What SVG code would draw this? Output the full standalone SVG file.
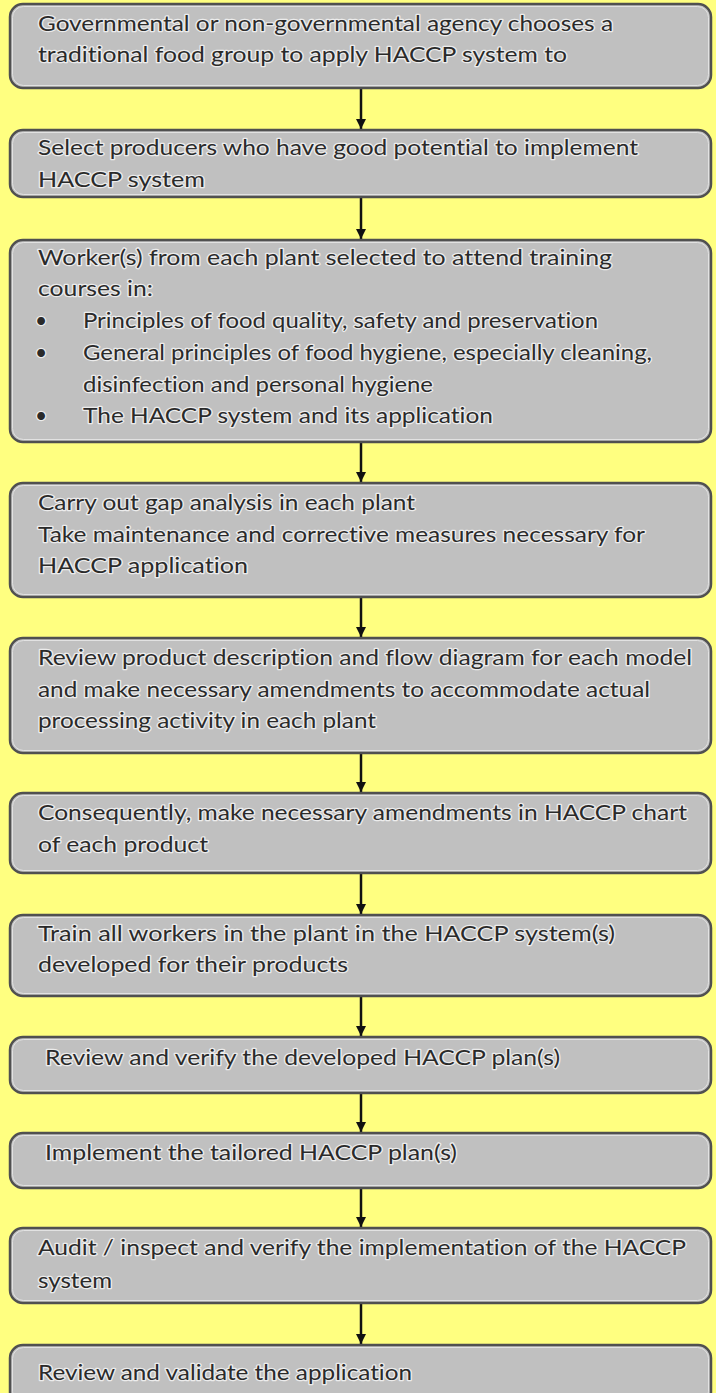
<svg xmlns="http://www.w3.org/2000/svg" width="716" height="1393" viewBox="0 0 716 1393">
<style>
.box{fill:#c0c0c0;stroke:#505050;stroke-width:2.5}
.inner{fill:none;stroke:#e2e2e2;stroke-width:1}
.t{font-family:Lato,"Open Sans","Liberation Sans",sans-serif;font-size:21px;fill:#2a2a2a;stroke:#ececec;stroke-width:2.5;stroke-linejoin:round;paint-order:stroke;font-variant-ligatures:none}
.c{stroke:#111;stroke-width:2.5;fill:none}
</style>
<defs>
<marker id="ah" viewBox="0 0 10 14" refX="10" refY="5" markerWidth="10" markerHeight="14" markerUnits="userSpaceOnUse" orient="auto">
<path d="M0,0 L10,5 L0,10 Z" fill="#111"/>
</marker>
</defs>
<rect width="716" height="1393" fill="#ffff80"/>
<g id="connectors">
<line class="c" x1="361" y1="88" x2="361" y2="129" marker-end="url(#ah)"/>
<line class="c" x1="361" y1="197" x2="361" y2="239" marker-end="url(#ah)"/>
<line class="c" x1="361" y1="442" x2="361" y2="482" marker-end="url(#ah)"/>
<line class="c" x1="361" y1="597" x2="361" y2="637" marker-end="url(#ah)"/>
<line class="c" x1="361" y1="753" x2="361" y2="792" marker-end="url(#ah)"/>
<line class="c" x1="361" y1="873" x2="361" y2="914" marker-end="url(#ah)"/>
<line class="c" x1="361" y1="996" x2="361" y2="1036" marker-end="url(#ah)"/>
<line class="c" x1="361" y1="1093" x2="361" y2="1132" marker-end="url(#ah)"/>
<line class="c" x1="361" y1="1188" x2="361" y2="1227" marker-end="url(#ah)"/>
<line class="c" x1="361" y1="1303" x2="361" y2="1344" marker-end="url(#ah)"/>
</g>
<g id="n1">
<rect class="box" x="10" y="4" width="701" height="84" rx="13"/>
<rect class="inner" x="12.5" y="6.5" width="696" height="79" rx="11"/>
<text class="t" x="38" y="31" textLength="575" lengthAdjust="spacingAndGlyphs">Governmental or non-governmental agency chooses a</text>
<text class="t" x="38" y="62" textLength="529" lengthAdjust="spacingAndGlyphs">traditional food group to apply HACCP system to</text>
</g>
<g id="n2">
<rect class="box" x="10" y="130" width="701" height="67" rx="13"/>
<rect class="inner" x="12.5" y="132.5" width="696" height="62" rx="11"/>
<text class="t" x="38" y="155" textLength="600" lengthAdjust="spacingAndGlyphs">Select producers who have good potential to implement</text>
<text class="t" x="38" y="187" textLength="167" lengthAdjust="spacingAndGlyphs">HACCP system</text>
</g>
<g id="n3">
<rect class="box" x="10" y="240" width="701" height="202" rx="13"/>
<rect class="inner" x="12.5" y="242.5" width="696" height="197" rx="11"/>
<text class="t" x="38" y="265" textLength="574" lengthAdjust="spacingAndGlyphs">Worker(s) from each plant selected to attend training</text>
<text class="t" x="38" y="296" textLength="115" lengthAdjust="spacingAndGlyphs">courses in:</text>
<text class="t" x="35" y="328">•</text>
<text class="t" x="83" y="328" textLength="515" lengthAdjust="spacingAndGlyphs">Principles of food quality, safety and preservation</text>
<text class="t" x="35" y="360">•</text>
<text class="t" x="83" y="360" textLength="569" lengthAdjust="spacingAndGlyphs">General principles of food hygiene, especially cleaning,</text>
<text class="t" x="83" y="392" textLength="350" lengthAdjust="spacingAndGlyphs">disinfection and personal hygiene</text>
<text class="t" x="35" y="423">•</text>
<text class="t" x="83" y="423" textLength="410" lengthAdjust="spacingAndGlyphs">The HACCP system and its application</text>
</g>
<g id="n4">
<rect class="box" x="10" y="483" width="701" height="114" rx="13"/>
<rect class="inner" x="12.5" y="485.5" width="696" height="109" rx="11"/>
<text class="t" x="38" y="510" textLength="377" lengthAdjust="spacingAndGlyphs">Carry out gap analysis in each plant</text>
<text class="t" x="38" y="542" textLength="607" lengthAdjust="spacingAndGlyphs">Take maintenance and corrective measures necessary for</text>
<text class="t" x="38" y="573" textLength="210" lengthAdjust="spacingAndGlyphs">HACCP application</text>
</g>
<g id="n5">
<rect class="box" x="10" y="638" width="701" height="115" rx="13"/>
<rect class="inner" x="12.5" y="640.5" width="696" height="110" rx="11"/>
<text class="t" x="38" y="665" textLength="654" lengthAdjust="spacingAndGlyphs">Review product description and flow diagram for each model</text>
<text class="t" x="38" y="697" textLength="612" lengthAdjust="spacingAndGlyphs">and make necessary amendments to accommodate actual</text>
<text class="t" x="38" y="728" textLength="338" lengthAdjust="spacingAndGlyphs">processing activity in each plant</text>
</g>
<g id="n6">
<rect class="box" x="10" y="793" width="701" height="80" rx="13"/>
<rect class="inner" x="12.5" y="795.5" width="696" height="75" rx="11"/>
<text class="t" x="38" y="820" textLength="649" lengthAdjust="spacingAndGlyphs">Consequently, make necessary amendments in HACCP chart</text>
<text class="t" x="38" y="852" textLength="170" lengthAdjust="spacingAndGlyphs">of each product</text>
</g>
<g id="n7">
<rect class="box" x="10" y="915" width="701" height="81" rx="13"/>
<rect class="inner" x="12.5" y="917.5" width="696" height="76" rx="11"/>
<text class="t" x="38" y="941" textLength="577" lengthAdjust="spacingAndGlyphs">Train all workers in the plant in the HACCP system(s)</text>
<text class="t" x="38" y="972" textLength="310" lengthAdjust="spacingAndGlyphs">developed for their products</text>
</g>
<g id="n8">
<rect class="box" x="10" y="1037" width="701" height="56" rx="13"/>
<rect class="inner" x="12.5" y="1039.5" width="696" height="51" rx="11"/>
<text class="t" x="45" y="1065" textLength="515" lengthAdjust="spacingAndGlyphs">Review and verify the developed HACCP plan(s)</text>
</g>
<g id="n9">
<rect class="box" x="10" y="1133" width="701" height="55" rx="13"/>
<rect class="inner" x="12.5" y="1135.5" width="696" height="50" rx="11"/>
<text class="t" x="45" y="1160" textLength="412" lengthAdjust="spacingAndGlyphs">Implement the tailored HACCP plan(s)</text>
</g>
<g id="n10">
<rect class="box" x="10" y="1228" width="701" height="75" rx="13"/>
<rect class="inner" x="12.5" y="1230.5" width="696" height="70" rx="11"/>
<text class="t" x="38" y="1255" textLength="648" lengthAdjust="spacingAndGlyphs">Audit / inspect and verify the implementation of the HACCP</text>
<text class="t" x="38" y="1288" textLength="74" lengthAdjust="spacingAndGlyphs">system</text>
</g>
<g id="n11">
<rect class="box" x="10" y="1345" width="701" height="60" rx="13"/>
<rect class="inner" x="12.5" y="1347.5" width="696" height="55" rx="11"/>
<text class="t" x="38" y="1380" textLength="374" lengthAdjust="spacingAndGlyphs">Review and validate the application</text>
</g>
</svg>
